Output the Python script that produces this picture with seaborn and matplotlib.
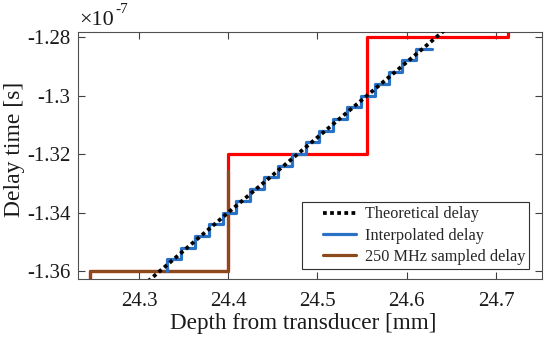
import matplotlib
matplotlib.use("Agg")
import matplotlib.pyplot as plt
import seaborn as sns
import pandas as pd
from matplotlib.ticker import FuncFormatter
from matplotlib.lines import Line2D
from matplotlib.legend_handler import HandlerLine2D

# ---- data (delay in units of 1e-7 s) ----
theory_depth = [24.31, 24.40, 24.50, 24.60, 24.645]
theory_delay = [-1.3635, -1.3400, -1.3143, -1.2886, -1.2770]

interp_depth = [24.3316, 24.3471, 24.3626, 24.3781, 24.3936, 24.4091, 24.4246,
                24.4401, 24.4556, 24.4712, 24.4867, 24.5022, 24.5177, 24.5332,
                24.5487, 24.5642, 24.5797, 24.5952, 24.6107, 24.628]
interp_delay = [-1.360, -1.356, -1.352, -1.348, -1.344, -1.340, -1.336, -1.332,
                -1.328, -1.324, -1.320, -1.316, -1.312, -1.308, -1.304, -1.300,
                -1.296, -1.292, -1.288, -1.284]

sampled_depth = [24.245, 24.400, 24.555, 24.713, 24.713]
sampled_delay = [-1.40, -1.36, -1.32, -1.28, -1.24]

brown_depth = [24.245, 24.400, 24.400]
brown_delay = [-1.40, -1.36, -1.3258]

xticks = [24.3, 24.4, 24.5, 24.6, 24.7]
yticks = [-1.36, -1.34, -1.32, -1.30, -1.28]
legend_labels = ["Theoretical delay", "Interpolated delay", "250 MHz sampled delay"]

C_BLACK = "#000000"
C_BLUE = "#2a72c6"
C_RED = "#ff0000"
C_BROWN = "#8a4a1c"
C_TEXT = "#1a1a1a"
DOTS = (0, (1, 0.9))

sns.set_theme(style="white")
plt.rcParams["font.family"] = ["Liberation Serif", "DejaVu Serif"]
plt.rcParams["axes.unicode_minus"] = False

fig = plt.figure(figsize=(5.5, 3.43), dpi=100)
ax = fig.add_axes([0.1418, 0.1866, 0.8436, 0.7201])

df_s = pd.DataFrame({"x": sampled_depth, "y": sampled_delay})
df_b = pd.DataFrame({"x": brown_depth, "y": brown_delay})
df_i = pd.DataFrame({"x": interp_depth, "y": interp_delay})
df_t = pd.DataFrame({"x": theory_depth, "y": theory_delay})

sns.lineplot(data=df_s, x="x", y="y", ax=ax, estimator=None, sort=False,
             drawstyle="steps-pre", color=C_RED, lw=2.3, zorder=2)
sns.lineplot(data=df_b, x="x", y="y", ax=ax, estimator=None, sort=False,
             drawstyle="steps-pre", color=C_BROWN, lw=2.3, zorder=2.1)
sns.lineplot(data=df_i, x="x", y="y", ax=ax, estimator=None, sort=False,
             drawstyle="steps-pre", color=C_BLUE, lw=2.3, zorder=3)
sns.lineplot(data=df_t, x="x", y="y", ax=ax, estimator=None, sort=False,
             color=C_BLACK, lw=2.7, linestyle=DOTS, zorder=4)

ax.set_xlim(24.2317, 24.7515)
ax.set_ylim(-1.3627, -1.2783)
ax.set_xticks(xticks)
ax.set_yticks(yticks)
ax.xaxis.set_major_formatter(FuncFormatter(lambda v, p: f"{v:g}"))
ax.yaxis.set_major_formatter(FuncFormatter(lambda v, p: f"{v:g}"))
ax.tick_params(direction="in", length=5, width=0.8, color="#404040",
               labelsize=15, labelcolor=C_TEXT,
               top=True, right=True, bottom=True, left=True)
ax.tick_params(axis="x", pad=9.5)
ax.tick_params(axis="y", pad=5.5)
for s in ax.spines.values():
    s.set_visible(True)
    s.set_color("#505050")
    s.set_linewidth(0.8)

ax.set_xlabel("Depth from transducer [mm]", fontsize=16.7, color=C_TEXT, labelpad=1)
ax.set_ylabel("Delay time [s]", fontsize=17, color=C_TEXT, labelpad=1)
ax.xaxis.label.set_x(0.486)
ax.yaxis.label.set_y(0.524)

fig.text(79 / 550, 1 - 25 / 343, "×10", fontsize=16, color=C_TEXT,
         ha="left", va="baseline")
fig.text(115 / 550, 1 - 13 / 343, "-7", fontsize=11, color=C_TEXT,
         ha="left", va="baseline")


class ShiftedLine(HandlerLine2D):
    shift = 12.0

    def create_artists(self, legend, orig_handle, xdescent, ydescent,
                       width, height, fontsize, trans):
        return super().create_artists(legend, orig_handle,
                                      xdescent - self.shift, ydescent,
                                      width - self.shift, height,
                                      fontsize, trans)


handles = [
    Line2D([], [], color=C_BLACK, lw=2.7, linestyle=DOTS),
    Line2D([], [], color=C_BLUE, lw=2.3),
    Line2D([], [], color=C_BROWN, lw=2.3),
]
leg = ax.legend(handles, legend_labels, loc="lower right",
                bbox_to_anchor=(0.972, 0.040), borderaxespad=0,
                fontsize=11.7, frameon=True, fancybox=False,
                edgecolor="#303030", framealpha=1, handlelength=3.1,
                handletextpad=0.5, labelspacing=0.33, borderpad=0.25,
                handler_map={Line2D: ShiftedLine()})
leg.get_frame().set_linewidth(0.8)

fig.savefig("out.png", dpi=100)
